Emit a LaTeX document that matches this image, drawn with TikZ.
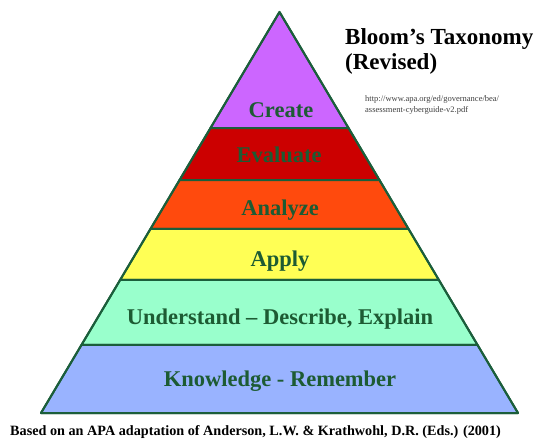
\documentclass[tikz,border=0pt]{standalone}
\usepackage{fontspec}
\setmainfont{Liberation Serif}[BoldFont={Liberation Serif Bold},ItalicFont={Liberation Serif Italic}]
\usetikzlibrary{calc}
\definecolor{outl}{HTML}{1B5E3B}
\definecolor{txtg}{HTML}{1D5B33}
\definecolor{ccreate}{HTML}{CC66FF}
\definecolor{ceval}{HTML}{CC0000}
\definecolor{canal}{HTML}{FF4A0D}
\definecolor{capply}{HTML}{FFFF55}
\definecolor{cunder}{HTML}{99FFCC}
\definecolor{cknow}{HTML}{99B3FF}
\begin{document}
\begin{tikzpicture}[x=1pt,y=-1pt,
  band/.style={draw=outl, line width=2pt, line join=round},
  lbl/.style={text=txtg, font=\bfseries\fontsize{22.5}{24}\selectfont, inner sep=0pt, anchor=base},
  ttl/.style={font=\bfseries\fontsize{23}{24}\selectfont, inner sep=0pt, anchor=base west},
  url/.style={font=\fontsize{8.5}{9}\selectfont, inner sep=0pt, anchor=base west, text=black!75}]
\useasboundingbox (0,0) rectangle (536,441);
\fill[white] (0,0) rectangle (536,441);
\coordinate (A) at (279.5,12);
\coordinate (L) at (41,413);
\coordinate (R) at (518,413);
\coordinate (L1) at ($(A)!0.2893!(L)$); \coordinate (R1) at ($(A)!0.2893!(R)$);
\coordinate (L2) at ($(A)!0.4190!(L)$); \coordinate (R2) at ($(A)!0.4190!(R)$);
\coordinate (L3) at ($(A)!0.5411!(L)$); \coordinate (R3) at ($(A)!0.5411!(R)$);
\coordinate (L4) at ($(A)!0.6683!(L)$); \coordinate (R4) at ($(A)!0.6683!(R)$);
\coordinate (L5) at ($(A)!0.8304!(L)$); \coordinate (R5) at ($(A)!0.8304!(R)$);
\filldraw[band, fill=ccreate] (A) -- (R1) -- (L1) -- cycle;
\filldraw[band, fill=ceval] (L1) -- (R1) -- (R2) -- (L2) -- cycle;
\filldraw[band, fill=canal] (L2) -- (R2) -- (R3) -- (L3) -- cycle;
\filldraw[band, fill=capply] (L3) -- (R3) -- (R4) -- (L4) -- cycle;
\filldraw[band, fill=cunder] (L4) -- (R4) -- (R5) -- (L5) -- cycle;
\filldraw[band, fill=cknow] (L5) -- (R5) -- (R) -- (L) -- cycle;
\draw[band] (A) -- (R) -- (L) -- cycle;
\node[lbl] (create) at (281,118) {Create};
\node[lbl] (evaluate) at (279,163) {Evaluate};
\node[lbl] (analyze) at (280,216) {Analyze};
\node[lbl] (apply) at (280,266) {Apply};
\node[lbl] (understand) at (280,324) {Understand -- Describe, Explain};
\node[lbl] (knowledge) at (280,386) {Knowledge - Remember};
\node[ttl] (title1) at (345,45) {Bloom’s Taxonomy};
\node[ttl] (title2) at (345,70) {(Revised)};
\node[url] (url1) at (365,102) {http://www.apa.org/ed/governance/bea/};
\node[url] (url2) at (365,113) {assessment-cyberguide-v2.pdf};
\node[font=\bfseries\fontsize{14.2}{16}\selectfont, inner sep=0pt, anchor=base west] (caption) at (10,435) {Based on an APA adaptation of Anderson, L.W. \& Krathwohl, D.R. (Eds.) (2001)};
\end{tikzpicture}
\end{document}
